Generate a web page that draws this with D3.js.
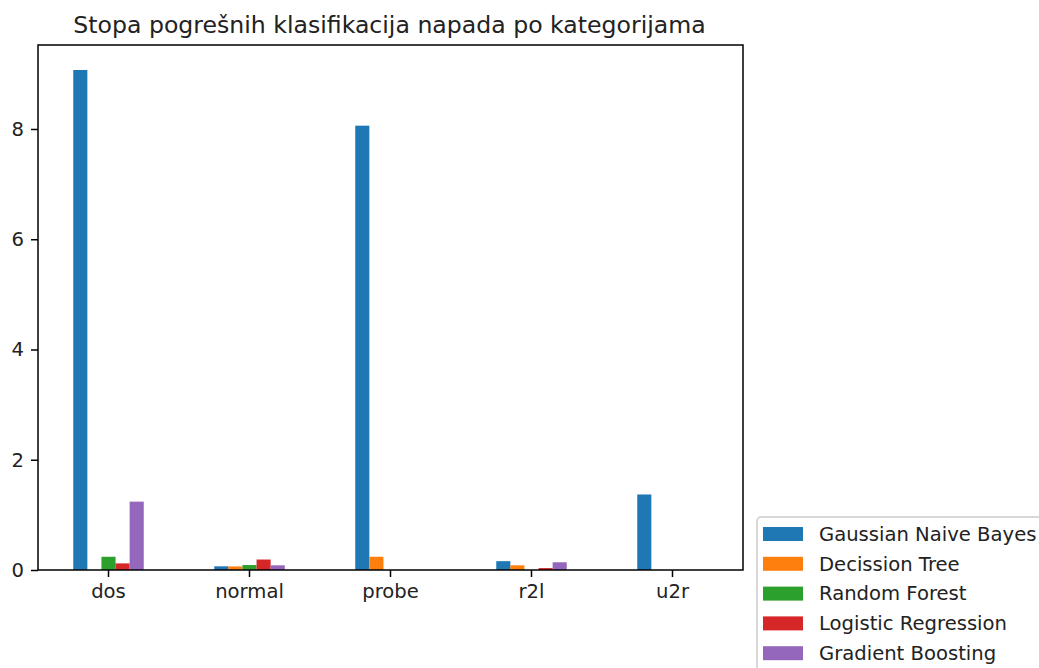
<!DOCTYPE html>
<html>
<head>
<meta charset="utf-8">
<script src="https://cdn.jsdelivr.net/npm/d3@7"></script>
<style>
  body { margin: 0; background: #fff; }
  svg { font-family: "DejaVu Sans", sans-serif; }
</style>
</head>
<body>
<svg width="1039" height="668"></svg>
<script>
const categories = ["dos", "normal", "probe", "r2l", "u2r"];
const seriesNames = ["Gaussian Naive Bayes", "Decission Tree", "Random Forest", "Logistic Regression", "Gradient Boosting"];
const colors = ["#1f77b4", "#ff7f0e", "#2ca02c", "#d62728", "#9467bd"];
// values per series, one per category
const gaussianNB = [9.07, 0.067, 8.06, 0.16, 1.37];
const decisionTree = [0.0, 0.065, 0.24, 0.085, 0.0];
const randomForest = [0.24, 0.09, 0.0, 0.0, 0.0];
const logisticReg = [0.12, 0.19, 0.0, 0.035, 0.0];
const gradBoosting = [1.24, 0.085, 0.0, 0.14, 0.0];
const yTicks = [0, 2, 4, 6, 8];

const values = [gaussianNB, decisionTree, randomForest, logisticReg, gradBoosting];

const svg = d3.select("svg");
const margin = { top: 45, left: 38, right: 743, bottom: 570 };

const x = d3.scaleBand()
  .domain(categories)
  .range([margin.left, margin.right])
  .paddingInner(0.5)
  .paddingOuter(0.25);

const xs = d3.scaleBand()
  .domain(seriesNames)
  .range([0, x.bandwidth()]);

const yMax = d3.max(values.flat()) * 1.05;
const y = d3.scaleLinear().domain([0, yMax]).range([margin.bottom, margin.top]);

// bars
values.forEach((vals, j) => {
  svg.append("g")
    .selectAll("rect")
    .data(vals)
    .join("rect")
    .attr("x", (d, i) => x(categories[i]) + xs(seriesNames[j]))
    .attr("y", d => y(d))
    .attr("width", xs.bandwidth())
    .attr("height", d => y(0) - y(d))
    .attr("fill", colors[j]);
});

// axes
const xAxis = svg.append("g")
  .attr("transform", `translate(0,${margin.bottom})`)
  .call(d3.axisBottom(x).tickSize(7).tickPadding(7).tickSizeOuter(0));
const yAxis = svg.append("g")
  .attr("transform", `translate(${margin.left},0)`)
  .call(d3.axisLeft(y).tickValues(yTicks).tickSize(7).tickPadding(7).tickSizeOuter(0));

[xAxis, yAxis].forEach(a => {
  a.select(".domain").remove();
  a.selectAll("line").attr("stroke", "#000").attr("stroke-width", 1.5);
  a.selectAll("text").attr("font-size", 19.6).attr("fill", "#222")
    .attr("font-family", "DejaVu Sans, sans-serif");
});

// frame
svg.append("rect")
  .attr("x", margin.left).attr("y", margin.top)
  .attr("width", margin.right - margin.left)
  .attr("height", margin.bottom - margin.top)
  .attr("fill", "none").attr("stroke", "#000").attr("stroke-width", 1.5);

// title
svg.append("text")
  .attr("x", (margin.left + margin.right) / 2 - 1)
  .attr("y", 33)
  .attr("text-anchor", "middle")
  .attr("font-size", 23.6)
  .attr("fill", "#222")
  .text("Stopa pogrešnih klasifikacija napada po kategorijama");

// legend
const legend = svg.append("g").attr("transform", "translate(757,517)");
legend.append("rect")
  .attr("width", 300).attr("height", 160)
  .attr("rx", 4)
  .attr("fill", "#fff").attr("fill-opacity", 0.8)
  .attr("stroke", "#ccc").attr("stroke-width", 1.5);
const item = legend.selectAll("g.item")
  .data(seriesNames)
  .join("g")
  .attr("class", "item")
  .attr("transform", (d, i) => `translate(0,${17 + i * 29.8})`);
item.append("rect")
  .attr("x", 6).attr("y", -7)
  .attr("width", 40).attr("height", 14)
  .attr("fill", (d, i) => colors[i]);
item.append("text")
  .attr("x", 62).attr("y", 0)
  .attr("dy", "0.35em")
  .attr("font-size", 19.6)
  .attr("fill", "#222")
  .text(d => d);
</script>
</body>
</html>
